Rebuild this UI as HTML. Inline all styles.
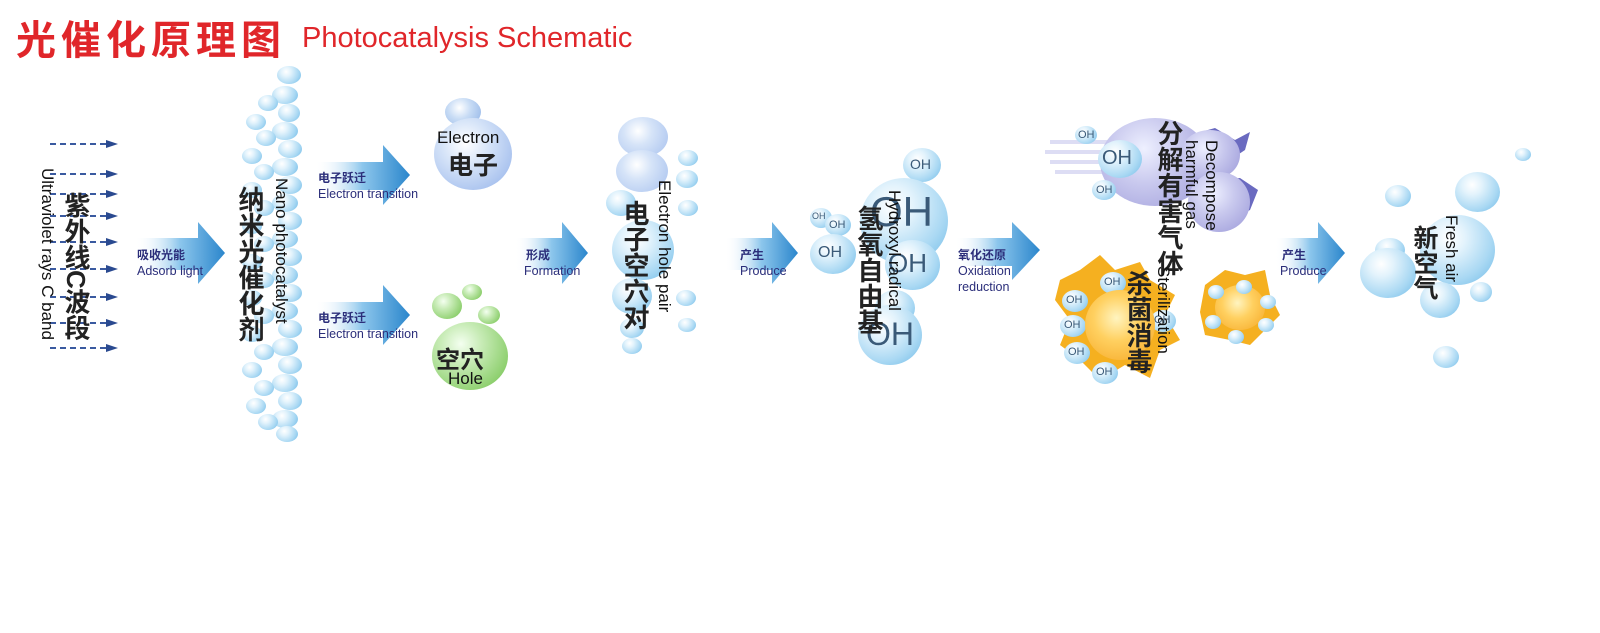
<!DOCTYPE html>
<html><head><meta charset="utf-8"><style>
body{margin:0;width:1600px;height:633px;background:#fff;position:relative;overflow:hidden;font-family:"Liberation Sans","Noto Sans CJK SC",sans-serif}
.a{position:absolute}
.b{position:absolute;border-radius:50%;background:radial-gradient(circle at 38% 32%,#ffffff 0%,#e3f3fc 25%,#a9d8f3 65%,#6bb8e6 100%)}
.g{position:absolute;border-radius:50%;background:radial-gradient(circle at 38% 32%,#f4fff0 0%,#c9ecb8 30%,#8fd070 75%,#5fb040 100%)}
.p{position:absolute;border-radius:50%;background:radial-gradient(circle at 40% 35%,#eef0ff 0%,#c9c9ee 40%,#9a98d8 100%)}
.y{position:absolute;border-radius:50%;background:radial-gradient(circle at 45% 40%,#fff4c0 0%,#ffd060 40%,#f5a623 100%)}
.vz{position:absolute;writing-mode:vertical-rl;font-weight:bold;color:#222;font-size:26px;line-height:28px}
.ve{position:absolute;writing-mode:vertical-rl;color:#111;font-size:17px;line-height:18px;white-space:nowrap}
.lz{position:absolute;font-size:12px;font-weight:bold;color:#2b2e7a}
.le{position:absolute;font-size:12.5px;color:#2b2e7a}
.oh{position:absolute;color:#3a5a78;font-size:11px}
.d{position:absolute;height:0;border-top:2px dashed #3a5aa0;width:56px}
.d:after{content:"";position:absolute;right:-12px;top:-5px;border-left:12px solid #2a4a90;border-top:4px solid transparent;border-bottom:4px solid transparent}
</style></head><body>
<div class="a" style="left:16px;top:8px;font-size:40px;font-weight:bold;color:#e0262a;letter-spacing:5px">光催化原理图</div>
<div class="a" style="left:302px;top:22px;font-size:29px;color:#e0262a">Photocatalysis Schematic</div>

<svg class="a" style="left:0;top:0" width="1600" height="633">
<defs><linearGradient id="ag" x1="0" x2="1"><stop offset="0" stop-color="#ffffff" stop-opacity="0"/><stop offset="0.5" stop-color="#8cc6ec"/><stop offset="1" stop-color="#2b86cc"/></linearGradient></defs>
<g fill="url(#ag)">
<polygon points="135,238 198,238 198,222 225,253 198,284 198,270 135,270"/>
<polygon points="315,162 383,162 383,145 410,175 383,205 383,190 315,190"/>
<polygon points="315,302 383,302 383,285 410,315 383,345 383,330 315,330"/>
<polygon points="515,238 562,238 562,222 588,253 562,284 562,270 515,270"/>
<polygon points="725,238 772,238 772,222 798,253 772,284 772,270 725,270"/>
<polygon points="955,238 1012,238 1012,222 1040,250 1012,280 1012,266 955,266"/>
<polygon points="1275,238 1318,238 1318,222 1345,253 1318,284 1318,270 1275,270"/>
</g>
<g fill="#c8c8ee" opacity="0.6"><rect x="1050" y="140" width="60" height="4"/><rect x="1045" y="150" width="65" height="4"/><rect x="1050" y="160" width="60" height="4"/><rect x="1055" y="170" width="55" height="4"/></g>
<g fill="#f5b020"><polygon points="1060,280 1080,270 1100,255 1115,270 1140,262 1150,280 1175,295 1165,315 1180,340 1160,350 1150,378 1125,365 1100,380 1080,360 1060,345 1070,320 1055,300"/>
<polygon points="1205,285 1225,270 1245,275 1265,270 1270,295 1280,315 1265,330 1250,345 1230,340 1205,335 1200,312"/></g>
<g fill="#6a6ac0"><polygon points="1190,135 1215,128 1235,140 1250,132 1245,150 1230,160 1210,155"/><polygon points="1215,180 1240,178 1258,190 1250,210 1230,220 1210,212"/></g>
</svg>

<div class="d" style="left:50px;top:143px"></div><div class="d" style="left:50px;top:173px"></div><div class="d" style="left:50px;top:193px"></div><div class="d" style="left:50px;top:215px"></div><div class="d" style="left:50px;top:241px"></div><div class="d" style="left:50px;top:268px"></div><div class="d" style="left:50px;top:296px"></div><div class="d" style="left:50px;top:322px"></div><div class="d" style="left:50px;top:347px"></div>
<div class="ve" style="left:38px;top:168px">Ultraviolet rays C band</div>
<div class="vz" style="left:62px;top:192px">紫外线C波段</div>
<div class="lz" style="left:137px;top:246px">吸收光能</div><div class="le" style="left:137px;top:264px">Adsorb light</div>

<div class="b" style="left:277px;top:66px;width:24px;height:18px"></div><div class="b" style="left:272px;top:86px;width:26px;height:18px"></div><div class="b" style="left:278px;top:104px;width:22px;height:18px"></div><div class="b" style="left:272px;top:122px;width:26px;height:18px"></div><div class="b" style="left:278px;top:140px;width:24px;height:18px"></div><div class="b" style="left:272px;top:158px;width:26px;height:18px"></div><div class="b" style="left:278px;top:176px;width:24px;height:18px"></div><div class="b" style="left:272px;top:194px;width:26px;height:18px"></div><div class="b" style="left:278px;top:212px;width:24px;height:18px"></div><div class="b" style="left:272px;top:230px;width:26px;height:18px"></div><div class="b" style="left:278px;top:248px;width:24px;height:18px"></div><div class="b" style="left:272px;top:266px;width:26px;height:18px"></div><div class="b" style="left:278px;top:284px;width:24px;height:18px"></div><div class="b" style="left:272px;top:302px;width:26px;height:18px"></div><div class="b" style="left:278px;top:320px;width:24px;height:18px"></div><div class="b" style="left:272px;top:338px;width:26px;height:18px"></div><div class="b" style="left:278px;top:356px;width:24px;height:18px"></div><div class="b" style="left:272px;top:374px;width:26px;height:18px"></div><div class="b" style="left:278px;top:392px;width:24px;height:18px"></div><div class="b" style="left:272px;top:410px;width:26px;height:18px"></div><div class="b" style="left:276px;top:426px;width:22px;height:16px"></div>
<div class="b" style="left:258px;top:95px;width:20px;height:16px"></div><div class="b" style="left:246px;top:114px;width:20px;height:16px"></div><div class="b" style="left:256px;top:130px;width:20px;height:16px"></div><div class="b" style="left:242px;top:148px;width:20px;height:16px"></div><div class="b" style="left:254px;top:164px;width:20px;height:16px"></div><div class="b" style="left:242px;top:182px;width:20px;height:16px"></div><div class="b" style="left:254px;top:200px;width:20px;height:16px"></div><div class="b" style="left:242px;top:218px;width:20px;height:16px"></div><div class="b" style="left:254px;top:236px;width:20px;height:16px"></div><div class="b" style="left:242px;top:254px;width:20px;height:16px"></div><div class="b" style="left:254px;top:272px;width:20px;height:16px"></div><div class="b" style="left:242px;top:290px;width:20px;height:16px"></div><div class="b" style="left:254px;top:308px;width:20px;height:16px"></div><div class="b" style="left:242px;top:326px;width:20px;height:16px"></div><div class="b" style="left:254px;top:344px;width:20px;height:16px"></div><div class="b" style="left:242px;top:362px;width:20px;height:16px"></div><div class="b" style="left:254px;top:380px;width:20px;height:16px"></div><div class="b" style="left:246px;top:398px;width:20px;height:16px"></div><div class="b" style="left:258px;top:414px;width:20px;height:16px"></div>
<div class="vz" style="left:236px;top:186px">纳米光催化剂</div>
<div class="ve" style="left:272px;top:178px">Nano photocatalyst</div>

<div class="lz" style="left:318px;top:169px">电子跃迁</div><div class="le" style="left:318px;top:187px">Electron transition</div>
<div class="lz" style="left:318px;top:309px">电子跃迁</div><div class="le" style="left:318px;top:327px">Electron transition</div>

<div class="b" style="left:445px;top:98px;width:36px;height:28px;background:radial-gradient(circle at 40% 35%,#fff,#c8dcf5 40%,#8fb2e6)"></div>
<div class="b" style="left:434px;top:118px;width:78px;height:72px;background:radial-gradient(circle at 40% 35%,#fff,#d6e4f8 35%,#a6c0ee 80%,#88a8e6)"></div>
<div class="a" style="left:437px;top:128px;font-size:17px;color:#111">Electron</div>
<div class="a" style="left:448px;top:146px;font-size:25px;font-weight:bold;color:#222">电子</div>

<div class="g" style="left:432px;top:293px;width:30px;height:26px"></div><div class="g" style="left:462px;top:284px;width:20px;height:16px"></div><div class="g" style="left:478px;top:306px;width:22px;height:18px"></div>
<div class="g" style="left:432px;top:322px;width:76px;height:68px"></div>
<div class="a" style="left:436px;top:340px;font-size:24px;font-weight:bold;color:#222">空穴</div>
<div class="a" style="left:448px;top:369px;font-size:17px;color:#111">Hole</div>

<div class="lz" style="left:526px;top:246px">形成</div><div class="le" style="left:524px;top:264px">Formation</div>

<div class="b" style="left:618px;top:117px;width:50px;height:40px;background:radial-gradient(circle at 40% 35%,#fff,#d6e4f8 35%,#a6c0ee)"></div>
<div class="b" style="left:616px;top:150px;width:52px;height:42px;background:radial-gradient(circle at 40% 35%,#fff,#d6e4f8 35%,#a6c0ee)"></div>
<div class="b" style="left:606px;top:190px;width:30px;height:26px"></div><div class="b" style="left:612px;top:220px;width:62px;height:60px"></div><div class="b" style="left:612px;top:278px;width:40px;height:36px"></div><div class="b" style="left:620px;top:318px;width:24px;height:20px"></div><div class="b" style="left:622px;top:338px;width:20px;height:16px"></div>
<div class="b" style="left:678px;top:150px;width:20px;height:16px"></div><div class="b" style="left:676px;top:170px;width:22px;height:18px"></div><div class="b" style="left:678px;top:200px;width:20px;height:16px"></div><div class="b" style="left:676px;top:290px;width:20px;height:16px"></div><div class="b" style="left:678px;top:318px;width:18px;height:14px"></div>
<div class="vz" style="left:621px;top:200px">电子空穴对</div>
<div class="ve" style="left:655px;top:180px">Electron hole pair</div>

<div class="lz" style="left:740px;top:246px">产生</div><div class="le" style="left:740px;top:264px">Produce</div>

<div class="b" style="left:903px;top:148px;width:38px;height:34px"></div><div class="oh" style="left:910px;top:156px;font-size:14px">OH</div>
<div class="b" style="left:860px;top:178px;width:88px;height:86px"></div><div class="a" style="left:870px;top:188px;font-size:42px;color:#3a5a78">OH</div>
<div class="b" style="left:885px;top:240px;width:55px;height:50px"></div><div class="oh" style="left:888px;top:248px;font-size:26px">OH</div>
<div class="b" style="left:875px;top:290px;width:40px;height:36px"></div>
<div class="b" style="left:858px;top:305px;width:64px;height:60px"></div><div class="oh" style="left:866px;top:316px;font-size:32px">OH</div>
<div class="b" style="left:810px;top:208px;width:22px;height:20px"></div><div class="oh" style="left:812px;top:211px;font-size:9px">OH</div>
<div class="b" style="left:825px;top:214px;width:26px;height:22px"></div><div class="oh" style="left:829px;top:219px">OH</div>
<div class="b" style="left:810px;top:234px;width:46px;height:40px"></div><div class="oh" style="left:818px;top:244px;font-size:16px">OH</div>
<div class="vz" style="left:855px;top:205px">氢氧自由基</div>
<div class="ve" style="left:885px;top:190px">Hydroxyl radical</div>

<div class="lz" style="left:958px;top:246px">氧化还原</div><div class="le" style="left:958px;top:264px">Oxidation</div><div class="le" style="left:958px;top:280px">reduction</div>

<div class="p" style="left:1100px;top:118px;width:110px;height:88px"></div>
<div class="p" style="left:1180px;top:130px;width:60px;height:50px"></div>
<div class="p" style="left:1188px;top:172px;width:62px;height:60px"></div>
<div class="b" style="left:1075px;top:126px;width:22px;height:18px"></div><div class="oh" style="left:1078px;top:129px">OH</div>
<div class="b" style="left:1098px;top:140px;width:44px;height:38px"></div><div class="oh" style="left:1102px;top:147px;font-size:20px">OH</div>
<div class="b" style="left:1092px;top:180px;width:24px;height:20px"></div><div class="oh" style="left:1096px;top:184px">OH</div>
<div class="vz" style="left:1155px;top:120px">分解有害气体</div>
<div class="ve" style="left:1182px;top:140px">harmful gas</div>
<div class="ve" style="left:1202px;top:140px">Decompose</div>

<div class="b" style="left:1062px;top:290px;width:26px;height:22px"></div><div class="oh" style="left:1066px;top:294px">OH</div>
<div class="b" style="left:1100px;top:272px;width:26px;height:22px"></div><div class="oh" style="left:1104px;top:276px">OH</div>
<div class="b" style="left:1060px;top:315px;width:26px;height:22px"></div><div class="oh" style="left:1064px;top:319px">OH</div>
<div class="b" style="left:1064px;top:342px;width:26px;height:22px"></div><div class="oh" style="left:1068px;top:346px">OH</div>
<div class="b" style="left:1092px;top:362px;width:26px;height:22px"></div><div class="oh" style="left:1096px;top:366px">OH</div>
<div class="b" style="left:1150px;top:310px;width:26px;height:22px"></div><div class="oh" style="left:1154px;top:314px">OH</div>
<div class="y" style="left:1085px;top:290px;width:70px;height:70px"></div>
<div class="y" style="left:1215px;top:285px;width:50px;height:45px"></div>
<div class="b" style="left:1208px;top:285px;width:16px;height:14px"></div><div class="b" style="left:1236px;top:280px;width:16px;height:14px"></div><div class="b" style="left:1260px;top:295px;width:16px;height:14px"></div><div class="b" style="left:1205px;top:315px;width:16px;height:14px"></div><div class="b" style="left:1228px;top:330px;width:16px;height:14px"></div><div class="b" style="left:1258px;top:318px;width:16px;height:14px"></div>
<div class="vz" style="left:1124px;top:270px">杀菌消毒</div>
<div class="ve" style="left:1154px;top:266px">Sterilization</div>

<div class="lz" style="left:1282px;top:246px">产生</div><div class="le" style="left:1280px;top:264px">Produce</div>

<div class="b" style="left:1515px;top:148px;width:16px;height:13px"></div>
<div class="b" style="left:1455px;top:172px;width:45px;height:40px"></div>
<div class="b" style="left:1420px;top:215px;width:75px;height:70px"></div>
<div class="b" style="left:1385px;top:185px;width:26px;height:22px"></div>
<div class="b" style="left:1375px;top:238px;width:30px;height:24px"></div>
<div class="b" style="left:1360px;top:248px;width:56px;height:50px"></div>
<div class="b" style="left:1420px;top:282px;width:40px;height:36px"></div>
<div class="b" style="left:1470px;top:282px;width:22px;height:20px"></div>
<div class="b" style="left:1433px;top:346px;width:26px;height:22px"></div>
<div class="vz" style="left:1410px;top:225px;font-size:25px">新空气</div>
<div class="ve" style="left:1442px;top:215px">Fresh air</div>
</body></html>
